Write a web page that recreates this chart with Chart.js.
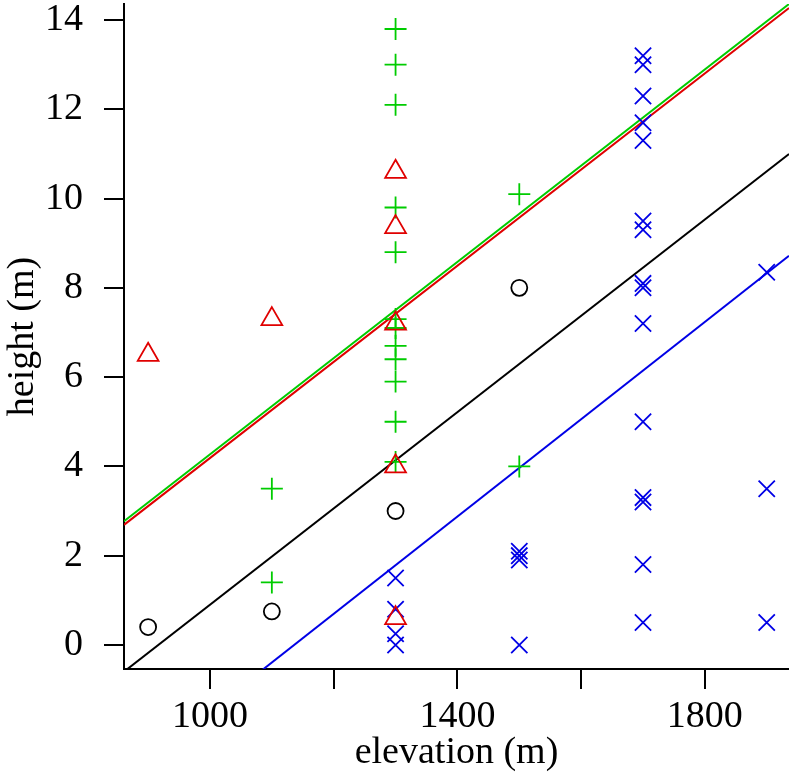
<!DOCTYPE html>
<html>
<head>
<meta charset="utf-8">
<script src="https://cdn.jsdelivr.net/npm/chart.js@4.4.1/dist/chart.umd.min.js"></script>
<style>
  html, body { margin: 0; padding: 0; background: #fff; }
  #wrap { width: 789px; height: 776px; }
</style>
</head>
<body>
<div id="wrap"><canvas id="plot"></canvas></div>
<script>
// tick positions
const xTicks = [1000, 1200, 1400, 1600, 1800];
const xLabelled = [1000, 1400, 1800];
const yTicks = [0, 2, 4, 6, 8, 10, 12, 14];

// black circles
const circleX = [900, 1100, 1300, 1500];
const circleY = [0.4, 0.75, 3.0, 8.0];

// red triangles
const triX = [900, 1100, 1300, 1300, 1300, 1300, 1300];
const triY = [6.5, 7.3, 10.6, 9.36, 7.2, 4.0, 0.6];

// green pluses
const plusX = [1100, 1100, 1300, 1300, 1300, 1300, 1300, 1300, 1300, 1300, 1300, 1300, 1300, 1300, 1500, 1500];
const plusY = [3.5, 1.4, 13.8, 13.0, 12.1, 9.8, 8.8, 7.3, 7.1, 6.7, 6.4, 5.9, 5.0, 4.1, 10.1, 4.0];

// blue crosses
const crossX = [1300, 1300, 1300, 1300, 1500, 1500, 1500, 1500,
  1700, 1700, 1700, 1700, 1700, 1700, 1700, 1700, 1700, 1700, 1700, 1700, 1700, 1700, 1700,
  1900, 1900, 1900];
const crossY = [1.5, 0.8, 0.25, 0.0, 2.1, 2.0, 1.9, 0.0,
  13.2, 13.0, 12.3, 11.7, 11.3, 9.5, 9.3, 8.1, 8.0, 7.2, 5.0, 3.3, 3.2, 1.8, 0.5,
  8.35, 3.5, 0.5];

// fitted lines, end points
const lineXs = [861, 1936];
const greenLineY = [2.77, 14.36];
const redLineY = [2.69, 14.27];
const blackLineY = [-0.60, 11.0];
const blueLineY = [-3.0, 8.72];

const GREEN = '#00cc00';
const RED = '#e00000';
const BLUE = '#0000e6';

function pts(xs, ys) {
  return xs.map((x, i) => ({ x: x, y: ys[i] }));
}

function markers(xs, ys, style, radius, color) {
  return {
    type: 'scatter',
    data: pts(xs, ys),
    pointStyle: style,
    pointRadius: radius,
    pointHoverRadius: radius,
    borderColor: color,
    backgroundColor: 'rgba(0,0,0,0)',
    pointBorderWidth: 1.8,
    showLine: false
  };
}

function fitLine(ys, color) {
  return {
    type: 'line',
    data: pts(lineXs, ys),
    borderColor: color,
    borderWidth: 2,
    pointRadius: 0,
    fill: false,
    tension: 0
  };
}

const serif = { family: '"Liberation Serif", "Times New Roman", serif', size: 38 };

new Chart(document.getElementById('plot'), {
  type: 'scatter',
  data: {
    datasets: [
      markers(circleX, circleY, 'circle', 8, '#000'),
      markers(triX, triY, 'triangle', 12, RED),
      markers(plusX, plusY, 'cross', 11, GREEN),
      markers(crossX, crossY, 'crossRot', 11.5, BLUE),
      fitLine(redLineY, RED),
      fitLine(greenLineY, GREEN),
      fitLine(blackLineY, '#000'),
      fitLine(blueLineY, BLUE)
    ]
  },
  options: {
    responsive: true,
    maintainAspectRatio: false,
    animation: false,
    layout: { autoPadding: false, padding: { top: 4, right: 0, bottom: 0, left: 0 } },
    plugins: {
      legend: { display: false },
      tooltip: { enabled: false }
    },
    scales: {
      x: {
        type: 'linear',
        min: 861,
        max: 1936,
        afterBuildTicks: s => { s.ticks = xTicks.map(v => ({ value: v })); },
        afterFit: s => { s.height = 107; s.paddingLeft = 0; s.paddingRight = 0; },
        border: { display: true, color: '#000', width: 2 },
        grid: { drawOnChartArea: false, drawTicks: true, tickLength: 20, color: '#000', lineWidth: 2 },
        ticks: {
          color: '#000',
          font: serif,
          padding: 5,
          maxRotation: 0,
          autoSkip: false,
          callback: v => xLabelled.includes(v) ? String(v) : ''
        },
        title: {
          display: true,
          text: 'elevation (m)',
          color: '#000',
          font: serif,
          padding: { top: 0, bottom: 0 }
        }
      },
      y: {
        type: 'linear',
        min: -0.54,
        max: 14.36,
        afterBuildTicks: s => { s.ticks = yTicks.map(v => ({ value: v })); },
        afterFit: s => { s.width = 124; s.paddingTop = 0; s.paddingBottom = 0; },
        border: { display: true, color: '#000', width: 2 },
        grid: { drawOnChartArea: false, drawTicks: true, tickLength: 20, color: '#000', lineWidth: 2 },
        ticks: {
          color: '#000',
          font: serif,
          padding: 21,
          autoSkip: false,
          callback: v => String(v)
        },
        title: {
          display: true,
          text: 'height (m)',
          color: '#000',
          font: serif,
          padding: 0
        }
      }
    }
  }
});
</script>
</body>
</html>
